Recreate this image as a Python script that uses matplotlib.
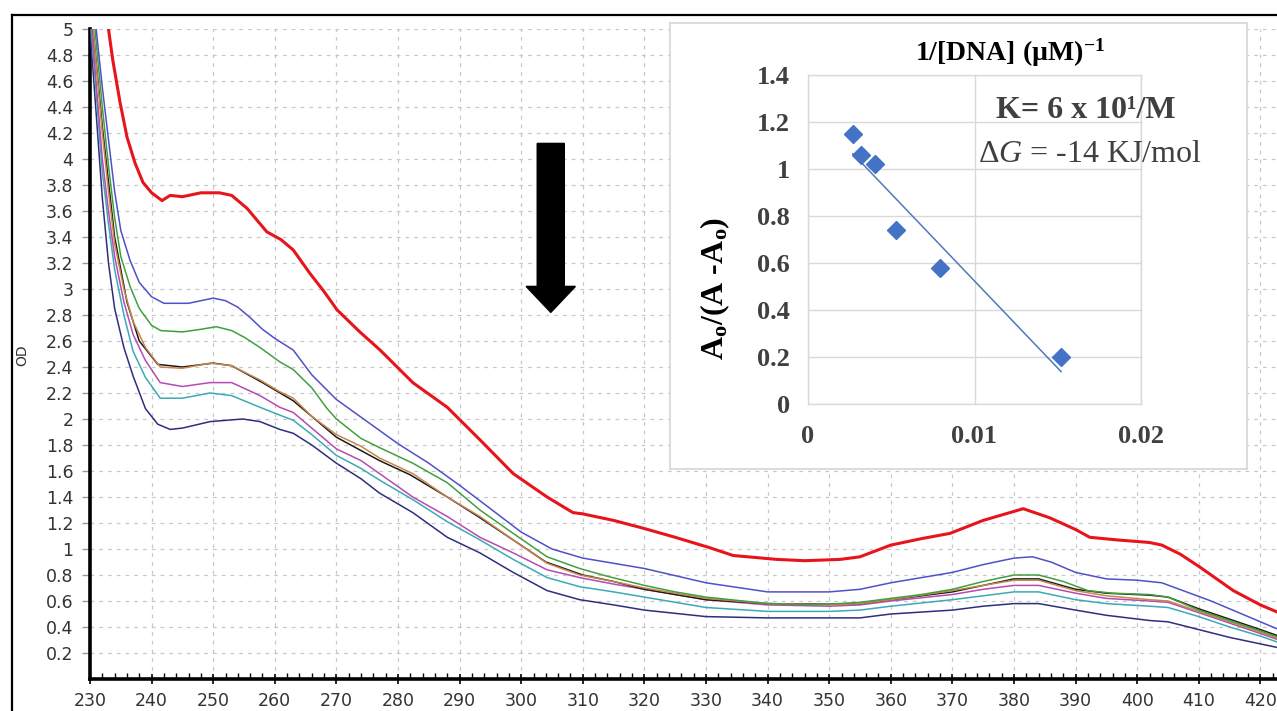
import matplotlib
matplotlib.use("Agg")
import numpy as np
import matplotlib.pyplot as plt
from matplotlib.patches import FancyArrow
from matplotlib.lines import Line2D

plt.rcParams["mathtext.fontset"] = "custom"
plt.rcParams["mathtext.rm"] = "Liberation Serif"
plt.rcParams["mathtext.it"] = "Liberation Serif:italic"
plt.rcParams["mathtext.bf"] = "Liberation Serif:bold"
plt.rcParams["mathtext.default"] = "regular"

# ---------------- UV-Vis titration spectra (wavelength nm, OD) ----------------
wl_free = [233.0, 233.7, 234.9, 236.0, 237.3, 238.6, 240.0, 241.7, 243.0, 245.0, 248.0,
           251.0, 253.0, 255.5, 258.7, 261.0, 263.0, 265.7, 268.0, 270.1, 273.8, 277.1,
           282.4, 288.0, 293.3, 298.7, 304.2, 308.4, 310.0, 315.0, 319.8, 325.0, 330.6,
           334.4, 341.5, 346.0, 351.8, 355.0, 360.0, 365.0, 369.6, 375.0, 381.5, 385.8,
           390.0, 392.3, 396.7, 402.0, 404.0, 407.0, 410.2, 415.6, 420.0, 423.0]
od_free = [5.00, 4.76, 4.43, 4.17, 3.97, 3.82, 3.74, 3.68, 3.72, 3.71, 3.74,
           3.74, 3.72, 3.62, 3.44, 3.38, 3.30, 3.12, 2.98, 2.84, 2.67, 2.53,
           2.28, 2.09, 1.84, 1.58, 1.40, 1.28, 1.27, 1.22, 1.16, 1.09, 1.01,
           0.95, 0.92, 0.91, 0.92, 0.94, 1.03, 1.08, 1.12, 1.22, 1.31, 1.24,
           1.15, 1.09, 1.07, 1.05, 1.03, 0.96, 0.86, 0.68, 0.57, 0.51]

wl_1 = [231.0, 232.0, 233.0, 234.0, 235.0, 236.5, 238.0, 240.0, 242.0, 244.0, 246.0,
        248.0, 250.0, 252.0, 254.0, 256.0, 258.0, 260.0, 263.0, 266.0, 270.0, 275.0,
        280.0, 285.0, 290.0, 295.0, 300.0, 305.0, 310.0, 315.0, 320.0, 330.0, 340.0,
        350.0, 355.0, 360.0, 365.0, 370.0, 375.0, 380.0, 383.0, 386.0, 390.0, 395.0,
        400.0, 404.0, 408.0, 412.0, 416.0, 420.0, 423.0]
od_1 = [5.00, 4.55, 4.15, 3.75, 3.45, 3.22, 3.05, 2.94, 2.89, 2.89, 2.89,
        2.91, 2.93, 2.91, 2.86, 2.78, 2.69, 2.62, 2.53, 2.34, 2.15, 1.98,
        1.81, 1.66, 1.49, 1.31, 1.13, 1.00, 0.93, 0.89, 0.85, 0.74, 0.67,
        0.67, 0.69, 0.74, 0.78, 0.82, 0.88, 0.93, 0.94, 0.90, 0.82, 0.77,
        0.76, 0.74, 0.67, 0.60, 0.52, 0.44, 0.38]

wl_2 = [230.8, 232.0, 233.0, 234.0, 235.0, 236.5, 238.0, 240.0, 241.5, 245.0, 248.0,
        250.5, 253.0, 255.0, 257.6, 260.8, 263.0, 266.0, 268.5, 270.0, 274.0, 277.0,
        282.4, 288.0, 293.3, 298.7, 304.2, 309.5, 314.0, 320.0, 325.0, 330.0, 340.0,
        348.0, 355.0, 360.0, 365.0, 370.0, 375.0, 380.0, 384.0, 388.0, 392.0, 396.0,
        402.0, 405.0, 410.0, 415.0, 420.0, 423.0]
od_2 = [5.00, 4.40, 3.95, 3.55, 3.25, 3.02, 2.85, 2.72, 2.68, 2.67, 2.69,
        2.71, 2.68, 2.63, 2.55, 2.44, 2.38, 2.24, 2.08, 2.00, 1.85, 1.78,
        1.66, 1.51, 1.30, 1.12, 0.94, 0.85, 0.79, 0.72, 0.67, 0.63, 0.58,
        0.57, 0.59, 0.62, 0.65, 0.69, 0.75, 0.80, 0.80, 0.75, 0.68, 0.66,
        0.65, 0.63, 0.53, 0.45, 0.37, 0.32]

wl_3 = [230.5, 232.0, 234.0, 236.0, 238.0, 241.0, 245.0, 250.0, 253.0, 258.0, 263.0,
        270.0, 277.0, 282.0, 288.0, 293.0, 299.0, 304.0, 310.0, 315.0, 320.0, 330.0,
        340.0, 350.0, 355.0, 360.0, 370.0, 375.0, 380.0, 384.0, 390.0, 395.0, 402.0,
        405.0, 410.0, 415.0, 420.0, 423.0]
od_3 = [5.00, 4.25, 3.40, 2.90, 2.60, 2.42, 2.40, 2.43, 2.41, 2.28, 2.14,
        1.86, 1.68, 1.57, 1.40, 1.25, 1.06, 0.90, 0.80, 0.75, 0.69, 0.61,
        0.58, 0.575, 0.58, 0.61, 0.67, 0.72, 0.77, 0.77, 0.69, 0.66, 0.645,
        0.63, 0.54, 0.46, 0.38, 0.33]

wl_4 = [230.5, 232.0, 233.0, 234.0, 235.5, 237.0, 239.0, 241.4, 245.0, 249.5, 253.0,
        257.6, 260.8, 263.0, 266.0, 270.0, 274.0, 277.0, 282.4, 288.0, 293.3, 298.7,
        304.2, 309.5, 315.0, 320.0, 330.0, 340.0, 350.0, 355.0, 360.0, 370.0, 375.0,
        380.0, 384.0, 390.0, 395.0, 402.0, 405.0, 410.0, 415.0, 420.0, 423.0]
od_4 = [5.00, 4.20, 3.75, 3.35, 3.00, 2.75, 2.55, 2.40, 2.39, 2.43, 2.41,
        2.30, 2.21, 2.16, 2.02, 1.88, 1.79, 1.70, 1.58, 1.40, 1.25, 1.07,
        0.89, 0.80, 0.75, 0.70, 0.62, 0.58, 0.57, 0.58, 0.61, 0.68, 0.72,
        0.76, 0.76, 0.68, 0.64, 0.61, 0.60, 0.52, 0.44, 0.36, 0.31]

wl_5 = [230.3, 232.0, 233.0, 234.0, 235.5, 237.0, 239.0, 241.4, 245.0, 249.5, 253.0,
        257.6, 260.8, 263.0, 266.0, 270.0, 274.0, 277.0, 282.4, 288.0, 293.3, 298.7,
        304.2, 309.5, 315.0, 320.0, 330.0, 340.0, 350.0, 355.0, 360.0, 370.0, 375.0,
        380.0, 384.0, 390.0, 395.0, 402.0, 405.0, 410.0, 415.0, 420.0, 423.0]
od_5 = [5.00, 4.00, 3.60, 3.25, 2.90, 2.65, 2.45, 2.28, 2.25, 2.28, 2.28,
        2.18, 2.09, 2.05, 1.93, 1.77, 1.68, 1.58, 1.40, 1.25, 1.09, 0.97,
        0.84, 0.78, 0.73, 0.69, 0.61, 0.57, 0.56, 0.57, 0.60, 0.65, 0.69,
        0.72, 0.72, 0.66, 0.62, 0.60, 0.59, 0.51, 0.43, 0.35, 0.30]

wl_6 = [230.2, 232.0, 233.0, 234.0, 235.5, 237.0, 239.0, 241.4, 245.0, 249.5, 253.0,
        257.6, 260.8, 263.0, 266.0, 270.0, 274.0, 277.0, 282.4, 288.0, 293.3, 298.7,
        304.2, 309.5, 315.0, 320.0, 330.0, 340.0, 350.0, 355.0, 360.0, 370.0, 375.0,
        380.0, 384.0, 390.0, 395.0, 402.0, 405.0, 410.0, 415.0, 420.0, 423.0]
od_6 = [5.00, 3.90, 3.50, 3.15, 2.80, 2.52, 2.32, 2.16, 2.16, 2.20, 2.18,
        2.09, 2.03, 1.99, 1.88, 1.72, 1.62, 1.53, 1.38, 1.21, 1.07, 0.92,
        0.78, 0.71, 0.67, 0.63, 0.55, 0.52, 0.52, 0.53, 0.56, 0.61, 0.64,
        0.67, 0.67, 0.61, 0.58, 0.56, 0.55, 0.48, 0.40, 0.33, 0.28]

wl_7 = [230.0, 231.0, 232.0, 233.0, 234.0, 235.5, 237.0, 239.0, 241.0, 243.0, 245.0,
        249.5, 254.8, 257.6, 260.8, 263.0, 266.0, 270.0, 274.0, 277.0, 282.4, 288.0,
        293.3, 298.7, 304.2, 309.5, 315.0, 320.0, 330.0, 340.0, 350.0, 355.0, 360.0,
        370.0, 375.0, 380.0, 384.0, 390.0, 395.0, 402.0, 405.0, 410.0, 415.0, 420.0, 423.0]
od_7 = [5.00, 4.35, 3.70, 3.20, 2.85, 2.55, 2.33, 2.08, 1.96, 1.92, 1.93,
        1.98, 2.00, 1.98, 1.92, 1.89, 1.80, 1.66, 1.54, 1.43, 1.28, 1.09,
        0.97, 0.82, 0.68, 0.61, 0.57, 0.53, 0.48, 0.47, 0.47, 0.47, 0.50,
        0.53, 0.56, 0.58, 0.58, 0.53, 0.49, 0.45, 0.44, 0.38, 0.32, 0.27, 0.24]

spectra = [
    (wl_7, od_7, "#2e2e7e", 1.1),
    (wl_6, od_6, "#3caab4", 1.1),
    (wl_5, od_5, "#b44cb4", 1.1),
    (wl_3, od_3, "#1a1a1a", 1.1),
    (wl_4, od_4, "#c8864a", 1.1),
    (wl_2, od_2, "#40a040", 1.1),
    (wl_1, od_1, "#5050c8", 1.1),
    (wl_free, od_free, "#e8141c", 2.2),
]

x_ticks = list(range(230, 421, 10))
y_ticks = [0.2, 0.4, 0.6, 0.8, 1, 1.2, 1.4, 1.6, 1.8, 2, 2.2, 2.4, 2.6, 2.8,
           3, 3.2, 3.4, 3.6, 3.8, 4, 4.2, 4.4, 4.6, 4.8, 5]
y_tick_labels = ["0.2", "0.4", "0.6", "0.8", "1", "1.2", "1.4", "1.6", "1.8", "2",
                 "2.2", "2.4", "2.6", "2.8", "3", "3.2", "3.4", "3.6", "3.8", "4",
                 "4.2", "4.4", "4.6", "4.8", "5"]

# ---------------- Binding plot (inset) ----------------
inv_dna = [0.0027, 0.0032, 0.0040, 0.0053, 0.0079, 0.0152]
ratio = [1.15, 1.06, 1.02, 0.74, 0.58, 0.20]
inset_x_ticks = [0, 0.01, 0.02]
inset_x_labels = ["0", "0.01", "0.02"]
inset_y_ticks = [0, 0.2, 0.4, 0.6, 0.8, 1, 1.2, 1.4]
inset_y_labels = ["0", "0.2", "0.4", "0.6", "0.8", "1", "1.2", "1.4"]

W, H = 1277, 711
fig = plt.figure(figsize=(W / 100, H / 100), dpi=100)
fig.patch.set_facecolor("white")


def fx(px):
    return px / W


def fy(py):
    return 1 - py / H


# main spectra axes
ax = fig.add_axes([fx(90), fy(679), 1 - fx(90), fy(29) - fy(679)])
px_per_nm = 6.16
ax.set_xlim(230, 230 + (W - 90) / px_per_nm)
ax.set_ylim(0, 5)

for wl, od, col, lw in spectra:
    ax.plot(wl, od, color=col, lw=lw, solid_joinstyle="round", zorder=3)

ax.set_xticks(x_ticks)
ax.set_xticks(np.arange(230, 423, 2), minor=True)
ax.set_yticks(y_ticks)
ax.set_yticklabels(y_tick_labels)
ax.grid(True, which="major", color="#c8c8c8", lw=0.9, ls=(0, (3, 4)))
for side in ("top", "right"):
    ax.spines[side].set_visible(False)
for side in ("left", "bottom"):
    ax.spines[side].set_linewidth(2.6)
    ax.spines[side].set_color("black")
ax.tick_params(axis="x", which="major", direction="inout", length=7, width=1.2,
               labelsize=12.5, labelcolor="#333333", pad=6)
ax.tick_params(axis="x", which="minor", direction="in", length=4, width=1)
ax.tick_params(axis="y", which="major", direction="out", length=6, width=1,
               color="#9a9a9a", labelsize=12.5, labelcolor="#333333", pad=6)

# direction of change arrow
ax.add_patch(FancyArrow(304.8, 4.12, 0, 2.82 - 4.12, width=4.4, head_width=8.0,
                        head_length=0.2, length_includes_head=True,
                        color="black", zorder=4))

fig.text(fx(22), fy(355), "OD", rotation=90, ha="center", va="center",
         fontsize=10, color="#333333")

# outer frame
fig.add_artist(Line2D([fx(12), fx(12)], [0, fy(15)], transform=fig.transFigure,
                      color="black", lw=1.6))
fig.add_artist(Line2D([fx(12), 1], [fy(15), fy(15)], transform=fig.transFigure,
                      color="black", lw=1.6))

# inset panel background
box = fig.add_axes([fx(670), fy(469), fx(1247) - fx(670), fy(23) - fy(469)])
box.set_xticks([])
box.set_yticks([])
box.set_facecolor("white")
for s in box.spines.values():
    s.set_color("#d6d6d6")
    s.set_linewidth(1.2)
box.set_zorder(5)

ins = fig.add_axes([fx(808), fy(404), fx(1141) - fx(808), fy(75) - fy(404)])
ins.set_zorder(6)
ins.set_facecolor("white")
ins.set_xlim(0, 0.02)
ins.set_ylim(0, 1.4)
ins.set_xticks(inset_x_ticks)
ins.set_xticklabels(inset_x_labels)
ins.set_yticks(inset_y_ticks)
ins.set_yticklabels(inset_y_labels)
ins.grid(True, color="#d9d9d9", lw=1.0)
ins.set_axisbelow(True)
for s in ins.spines.values():
    s.set_color("#d9d9d9")
    s.set_linewidth(1.0)
ins.tick_params(axis="x", length=0, labelsize=19, labelcolor="#404040", pad=15)
ins.tick_params(axis="y", length=0, labelsize=19, labelcolor="#404040", pad=13)
for lab in ins.get_xticklabels() + ins.get_yticklabels():
    lab.set_fontfamily("Liberation Serif")
    lab.set_fontweight("bold")

slope, intercept = np.polyfit(inv_dna, ratio, 1)
fit_x = np.array([min(inv_dna), max(inv_dna)])
ins.plot(fit_x, slope * fit_x + intercept, color="#4f7ab8", lw=1.1, zorder=3)
ins.plot(inv_dna, ratio, ls="none", marker="D", ms=9, color="#4472c4", zorder=4)

fig.text(fx(1010), fy(61), "1/[DNA] (\u00b5M)$^{-1}$", ha="center", va="baseline",
         fontsize=20, fontweight="bold", family="Liberation Serif", color="black",
         zorder=10)
fig.text(fx(715), fy(288), "A$_o$/(A -A$_o$)", rotation=90, ha="center",
         va="center", fontsize=23, fontweight="bold", family="Liberation Serif",
         color="black", zorder=10)
fig.text(fx(1086), fy(118), "K= 6 x 10\u00b9/M", ha="center", va="baseline",
         fontsize=23, fontweight="bold", family="Liberation Serif", color="#404040",
         zorder=10)
fig.text(fx(1090), fy(162), r"$\Delta\mathit{G}$ = -14 KJ/mol", ha="center",
         va="baseline", fontsize=23, family="Liberation Serif", color="#404040",
         zorder=10)

fig.savefig("out.png", dpi=100, facecolor="white")
